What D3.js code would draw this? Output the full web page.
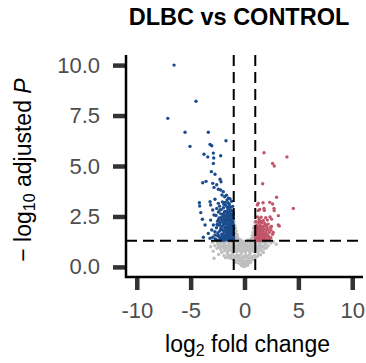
<!DOCTYPE html>
<html>
<head>
<meta charset="utf-8">
<script src="https://cdn.jsdelivr.net/npm/d3@7"></script>
<style>
  body { margin: 0; background: #fff; }
  text { font-family: "Liberation Sans", Arial, sans-serif; }
</style>
</head>
<body>
<svg width="366" height="363"></svg>
<script>
// data: [log2 fold change, -log10 adjusted p]
var downGenes = [
  [-6.54,10.0],[-4.50,8.21],[-7.12,7.36],[-5.52,6.67],[-3.36,6.67],[-1.72,6.25],[-5.06,5.97],
  [-3.2,6.07],[-3.04,6.0],[-3.76,5.58],[-3.41,5.45],[-2.89,5.64],[-2.86,5.40],[-2.21,5.51],
  [-2.89,5.13],[-3.08,4.72],[-2.74,4.59],[-3.88,4.17],[-3.57,4.24],[-2.95,4.14],[-2.58,4.07],
  [-2.27,4.34],[-2.18,4.22],[-2.83,3.94],[-2.43,3.85],[-2.21,3.81],[-2.09,3.56],[-1.97,3.73],
  [-4.19,3.18],[-4.16,3.02],[-4.06,2.69],[-3.91,2.36],[-3.66,2.08],[-3.82,1.47],
  [-3.2,3.23],[-3.14,3.07],[-2.74,3.35],[-2.43,3.15],[-2.95,2.82],[-2.83,2.57],[-3.14,2.32],
  [-2.89,2.08],[-3.04,1.83],[-3.36,1.66],[-2.74,1.58],[-3.2,1.42],[-2.95,1.47],
  [-1.85,3.48],[-1.62,3.31],[-2.05,3.22],[-1.41,3.12],[-1.74,3.05],[-2.31,3.01],[-1.28,2.96],
  [-1.95,2.93],[-2.58,2.9],[-1.52,2.88],[-2.17,2.84],[-1.12,2.79],[-1.66,2.76],[-2.42,2.72],
  [-1.38,2.7],[-1.9,2.66],[-2.2,2.63],[-1.05,2.6],[-1.55,2.58],[-2.65,2.55],[-1.25,2.53],
  [-1.78,2.51],[-2.02,2.5],[-1.15,2.47],[-1.45,2.45],[-2.35,2.43],[-1.68,2.41],[-1.02,2.38],
  [-1.9,2.36],[-2.12,2.33],[-1.32,2.31],[-1.58,2.28],[-2.5,2.26],[-1.08,2.24],[-1.82,2.22],
  [-2.25,2.2],[-1.2,2.18],[-1.48,2.16],[-1.7,2.13],[-1.04,2.11],[-1.95,2.09],[-2.4,2.07],
  [-1.35,2.05],[-1.62,2.02],[-2.15,2.0],[-1.12,1.98],[-1.85,1.96],[-2.6,1.94],[-1.42,1.92],
  [-1.01,1.9],[-1.28,1.88],[-1.75,1.86],[-2.05,1.84],[-1.55,1.82],[-1.09,1.8],[-2.3,1.78],
  [-1.38,1.76],[-1.92,1.74],[-1.18,1.72],[-1.66,1.7],[-2.48,1.68],[-1.02,1.66],[-1.48,1.64],
  [-2.12,1.62],[-1.25,1.6],[-1.8,1.58],[-1.06,1.56],[-1.58,1.54],[-2.0,1.52],[-1.35,1.5],
  [-2.35,1.48],[-1.12,1.46],[-1.7,1.44],[-1.45,1.42],[-1.98,1.4],[-1.03,1.38],[-2.22,1.37],
  [-1.3,1.35],[-1.6,1.34],[-1.88,1.33],[-2.55,1.32],[-1.15,1.31],[-1.01,1.45],[-1.07,1.62],
  [-1.14,1.85],[-1.22,1.42],[-1.33,1.68],[-1.4,1.95],[-1.52,1.38],[-1.63,1.9],[-1.72,1.55],
  [-1.86,1.45],[-1.95,1.6],[-2.08,1.35],[-1.18,2.02],[-1.27,2.25],[-1.5,2.08],[-1.75,2.3],
  [-1.05,2.72],[-1.36,2.55],[-1.62,2.62],[-1.2,3.25],[-1.5,3.4],[-1.1,3.0],[-1.45,1.78],
  [-1.58,1.6],[-1.1,1.33],[-1.25,1.5],
  [-1.03,1.5],[-1.08,1.72],[-1.16,1.95],[-1.13,2.35],[-1.22,2.62],[-1.31,2.82],[-1.42,3.0],
  [-1.55,3.18],[-1.68,3.55],[-1.35,3.38],[-1.8,3.2],[-1.92,3.1],[-1.6,2.95],[-1.84,2.75],
  [-1.47,2.72],[-2.28,2.82],[-1.7,2.47],[-1.97,2.6],[-2.14,2.45],[-1.4,2.4],[-1.55,2.38],
  [-2.4,2.35],[-1.22,2.12],[-1.88,2.15],[-2.3,2.12],[-2.0,2.22],[-1.38,1.85],[-1.58,1.98],
  [-2.2,1.9],[-1.7,1.78],[-2.4,1.55],[-1.42,1.55],[-1.9,1.5],[-2.15,1.45],[-1.2,1.38],
  [-1.7,1.35],[-1.45,1.33],[-1.95,1.32],[-1.03,1.32],[-2.3,1.33],[-2.7,1.38],[-2.5,1.55],
  [-2.75,1.75],[-2.55,2.1]
];

var upGenes = [
  [1.81,5.66],[3.94,5.45],[2.61,5.13],[2.76,5.0],[1.69,4.12],[2.98,3.45],[4.53,2.9],
  [1.28,3.15],[1.19,3.07],[1.72,3.18],[2.34,3.2],[2.61,3.12],[1.81,2.9],[1.84,2.8],
  [2.74,2.9],[2.76,2.79],[1.41,2.85],[1.28,2.79],[3.14,2.54],[3.23,2.03],[1.53,2.46],
  [1.97,2.44],[2.37,2.47],[2.52,2.37],[2.12,2.32],[3.14,2.08],[2.46,1.83],[2.67,1.71],
  [1.05,2.25],[1.32,2.2],[1.6,2.18],[1.88,2.15],[2.2,2.12],[1.15,2.08],[1.45,2.05],
  [1.75,2.02],[2.05,1.99],[2.38,1.96],[1.02,1.94],[1.28,1.92],[1.55,1.9],[1.85,1.87],
  [2.15,1.85],[1.1,1.82],[1.4,1.8],[1.68,1.77],[1.98,1.75],[2.3,1.72],[1.04,1.7],
  [1.22,1.68],[1.5,1.66],[1.8,1.63],[2.08,1.61],[1.12,1.58],[1.36,1.56],[1.62,1.54],
  [1.92,1.52],[2.25,1.5],[1.01,1.48],[1.25,1.46],[1.48,1.44],[1.72,1.42],[2.0,1.4],
  [1.08,1.38],[1.32,1.36],[1.58,1.35],[1.85,1.34],[2.12,1.33],[1.18,1.32],[1.42,1.31],
  [2.45,1.45],[2.6,1.62],[1.06,1.55],[1.2,1.9],[1.3,1.62],[1.14,1.4],[1.66,1.38],[1.5,1.75],
  [1.03,1.35],[1.1,1.47],[1.04,1.62],[1.16,1.75],[1.08,2.02],[1.26,1.57],[1.38,1.72],
  [1.45,1.53],[1.56,1.32],[1.62,1.95],[1.7,1.62],[1.78,1.48],[1.95,1.33],[1.4,1.38],
  [1.25,1.33],[1.3,1.98],[1.52,2.25],[1.75,2.3],[2.0,2.05],[1.94,1.65],[2.18,1.55],
  [2.32,1.38],[1.12,1.68],[1.6,1.43],[1.88,1.45],[2.5,2.0],[1.35,2.35],[1.2,2.48]
];

var nsGenes = [
  [-0.98,2.22],[-0.92,2.05],[-0.85,1.95],[-0.95,1.85],[-0.78,1.78],[-0.9,1.7],[-0.7,1.62],
  [-0.96,1.58],[-0.82,1.52],[-0.65,1.48],[-0.93,1.44],[-0.75,1.4],[-0.58,1.36],[-0.88,1.34],
  [-0.97,1.98],[-0.72,1.55],[-0.6,1.42],[-0.99,1.72],[-0.86,1.62],[-0.94,1.5],[-0.8,1.42],
  [-0.68,1.35],[-0.5,1.32],
  [0.97,2.2],[0.92,2.02],[0.85,1.9],[0.95,1.8],[0.8,1.72],[0.9,1.64],[0.72,1.56],[0.96,1.5],
  [0.84,1.45],[0.66,1.4],[0.93,1.37],[0.78,1.34],[0.6,1.33],[0.98,1.62],[0.88,1.95],
  [0.99,1.75],[0.86,1.55],[0.75,1.47],[0.7,1.38],[0.92,1.42],[0.45,1.31],
  [-0.4,1.35],[0.35,1.34],
  [-2.95,1.22],[-2.6,1.28],[-2.3,1.15],[-2.05,1.25],[-1.8,1.2],[-1.55,1.27],[-1.3,1.18],
  [-1.1,1.25],[-0.9,1.22],[-0.7,1.28],[-0.5,1.2],[-0.3,1.26],[-0.1,1.21],[0.1,1.27],[0.3,1.18],
  [0.5,1.25],[0.7,1.2],[0.9,1.28],[1.1,1.22],[1.3,1.26],[1.5,1.17],[1.75,1.24],[2.0,1.2],
  [2.3,1.27],[2.67,1.25],[2.95,1.12],
  [-2.5,1.18],[-2.2,1.22],[-1.95,1.17],[-1.7,1.29],[-1.45,1.2],[-1.2,1.28],[-0.95,1.16],
  [-0.6,1.23],[-0.4,1.17],[-0.2,1.29],[0.0,1.19],[0.2,1.23],[0.4,1.29],[0.6,1.16],[0.8,1.24],
  [1.0,1.18],[1.2,1.29],[1.4,1.2],[1.6,1.27],[1.9,1.16],[2.15,1.26],[2.45,1.18],
  [-2.75,1.05],[-2.45,1.08],[-2.15,1.02],[-1.9,1.1],[-1.65,1.05],[-1.4,1.1],[-1.2,1.03],
  [-1.0,1.12],[-0.8,1.06],[-0.6,1.1],[-0.4,1.04],[-0.2,1.12],[0.0,1.06],[0.2,1.1],[0.4,1.03],
  [0.6,1.12],[0.8,1.05],[1.0,1.1],[1.2,1.04],[1.4,1.09],[1.65,1.02],[1.9,1.08],[2.2,1.05],
  [-2.35,0.98],[-2.0,1.0],[-1.8,0.98],[-1.55,1.0],[-1.3,0.97],[-1.1,0.98],[-0.9,1.0],
  [-0.7,0.99],[-0.5,0.98],[-0.3,1.0],[-0.1,0.98],[0.1,1.0],[0.3,0.97],[0.5,1.0],[0.7,0.98],
  [0.9,1.0],[1.1,0.97],[1.3,1.0],[1.55,0.97],[1.75,1.0],[2.05,0.95],
  [-3.14,1.0],[-2.55,0.92],[-2.2,0.85],[-1.95,0.95],[-1.7,0.88],[-1.45,0.96],[-1.25,0.82],
  [-1.05,0.92],[-0.85,0.86],[-0.65,0.95],[-0.45,0.8],[-0.25,0.9],[-0.05,0.85],[0.15,0.94],
  [0.35,0.82],[0.55,0.9],[0.75,0.84],[0.95,0.95],[1.15,0.86],[1.35,0.92],[1.6,0.8],[1.85,0.9],
  [-2.9,0.78],[-1.55,0.75],[-1.1,0.72],[-0.7,0.76],[-0.3,0.72],[0.1,0.75],[0.5,0.72],
  [0.9,0.76],[1.25,0.73],[-2.1,0.72],[-1.85,0.8],[-1.4,0.85],[-0.95,0.78],[-0.55,0.86],
  [-0.15,0.78],[0.25,0.86],[0.65,0.78],[1.05,0.84],[1.45,0.85],[1.75,0.72],
  [-2.4,0.62],[-1.9,0.55],[-1.6,0.65],[-1.35,0.58],[-1.1,0.62],[-0.9,0.52],[-0.7,0.6],
  [-0.5,0.55],[-0.3,0.64],[-0.1,0.5],[0.1,0.6],[0.3,0.54],[0.5,0.63],[0.7,0.5],[0.95,0.58],
  [1.2,0.52],[1.5,0.6],[-2.83,0.43],[-1.45,0.45],[-1.2,0.42],[-0.8,0.45],[-0.4,0.43],
  [0.0,0.45],[0.4,0.44],[0.8,0.42],[-1.75,0.45],[-1.55,0.52],[-1.25,0.5],[-1.0,0.45],
  [-0.6,0.5],[-0.2,0.48],[0.2,0.5],[0.6,0.46],[1.0,0.47],[1.3,0.62],
  [-1.0,0.35],[-0.75,0.3],[-0.55,0.36],[-0.35,0.28],[-0.15,0.33],[0.05,0.27],[0.25,0.34],
  [0.45,0.29],[0.7,0.33],[-0.6,0.2],[-0.4,0.15],[-0.2,0.22],[0.0,0.12],[0.2,0.18],[0.4,0.22],
  [-0.85,0.22],[-0.1,0.3],[0.15,0.25],[0.55,0.2],[-0.35,0.38],[0.35,0.4],[-0.12,0.1],
  [0.18,0.11],[-0.3,0.13],[0.02,0.2],
  [-0.25,0.06],[0.1,0.04],[-0.05,0.02],[0.3,0.08]
];

var xTicks = [-10, -5, 0, 5, 10];
var yTicks = [0, 2.5, 5, 7.5, 10];
var fcCut = 1;        // |log2FC| threshold
var padjCut = 1.301;  // -log10(0.05)

var svg = d3.select("svg");

var x = d3.scaleLinear().domain([-11, 11]).range([126, 363]);
var y = d3.scaleLinear().domain([-0.5, 10.5]).range([277, 55]);

// title
svg.append("text")
  .attr("x", 239).attr("y", 25)
  .attr("text-anchor", "middle")
  .attr("font-size", 23.5).attr("font-weight", "bold")
  .text("DLBC vs CONTROL");

// points
var pts = svg.append("g");
function drawPts(data, col) {
  pts.selectAll(null)
    .data(data)
    .enter().append("circle")
      .attr("cx", function(d) { return x(d[0]); })
      .attr("cy", function(d) { return y(d[1]); })
      .attr("r", 1.7)
      .attr("fill", col);
}
drawPts(nsGenes, "#bfbfbf");
drawPts(downGenes, "#1b4c8c");
drawPts(upGenes, "#c05468");

// threshold lines
var dash = "11,6";
[-fcCut, fcCut].forEach(function(v) {
  svg.append("line")
    .attr("x1", x(v)).attr("x2", x(v))
    .attr("y1", y.range()[1]).attr("y2", y.range()[0])
    .attr("stroke", "#000").attr("stroke-width", 2)
    .attr("stroke-dasharray", dash);
});
svg.append("line")
  .attr("x1", x.range()[0]).attr("x2", x.range()[1])
  .attr("y1", y(padjCut)).attr("y2", y(padjCut))
  .attr("stroke", "#000").attr("stroke-width", 2)
  .attr("stroke-dasharray", dash);

// axes
var xAxis = svg.append("g")
  .attr("transform", "translate(0,277)")
  .call(d3.axisBottom(x).tickValues(xTicks).tickSize(13).tickPadding(12.5)
    .tickFormat(function(d) { return d; }));
var yAxis = svg.append("g")
  .attr("transform", "translate(126,0)")
  .call(d3.axisLeft(y).tickValues(yTicks).tickSize(13).tickPadding(13)
    .tickFormat(d3.format(".1f")));

[xAxis, yAxis].forEach(function(a) {
  a.select(".domain").remove();
  a.selectAll(".tick line").attr("stroke", "#333").attr("stroke-width", 4.5);
  a.selectAll(".tick text").attr("fill", "#4d4d4d").attr("font-size", 22)
    .attr("font-family", "Liberation Sans, Arial, sans-serif");
});

// axis lines
svg.append("path")
  .attr("d", "M126,55V277H363")
  .attr("fill", "none").attr("stroke", "#000").attr("stroke-width", 2.5);

// axis titles
var xt = svg.append("text")
  .attr("x", 247.5).attr("y", 352)
  .attr("text-anchor", "middle").attr("font-size", 23);
xt.append("tspan").text("log");
xt.append("tspan").attr("font-size", 16).attr("dy", 4).text("2");
xt.append("tspan").attr("dy", -4).text(" fold change");

var yt = svg.append("text")
  .attr("transform", "translate(31,170) rotate(-90)")
  .attr("text-anchor", "middle").attr("font-size", 23);
yt.append("tspan").text("\u2212 log");
yt.append("tspan").attr("font-size", 16).attr("dy", 4).text("10");
yt.append("tspan").attr("dy", -4).text(" adjusted ");
yt.append("tspan").attr("font-style", "italic").text("P");
</script>
</body>
</html>
